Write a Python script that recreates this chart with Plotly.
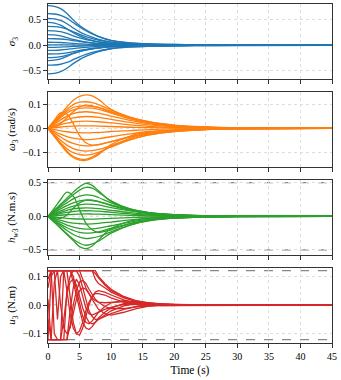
import plotly.graph_objects as go
from plotly.subplots import make_subplots

# sample times for the smooth states (s)
T = [0, 1, 2, 3, 4, 5, 6, 7, 8, 10, 13, 16, 20, 25, 30, 45]

# attitude MRP component sigma_3
SIGMA3 = [
    [0.78, 0.764, 0.718, 0.624, 0.499, 0.39, 0.304, 0.234, 0.172, 0.094, 0.047, 0.027, 0.016, 0.008, 0.004, 0],
    [0.62, 0.614, 0.589, 0.533, 0.446, 0.36, 0.285, 0.223, 0.174, 0.099, 0.05, 0.028, 0.016, 0.007, 0.004, 0],
    [0.53, 0.519, 0.488, 0.424, 0.339, 0.265, 0.207, 0.159, 0.117, 0.064, 0.032, 0.019, 0.011, 0.005, 0.003, 0],
    [0.45, 0.437, 0.396, 0.324, 0.248, 0.185, 0.135, 0.099, 0.072, 0.036, 0.018, 0.009, 0.005, 0.002, 0.001, 0],
    [0.37, 0.366, 0.352, 0.318, 0.266, 0.215, 0.17, 0.133, 0.104, 0.059, 0.03, 0.017, 0.009, 0.004, 0.002, 0],
    [0.29, 0.284, 0.267, 0.232, 0.186, 0.145, 0.113, 0.087, 0.064, 0.035, 0.017, 0.01, 0.006, 0.003, 0.001, 0],
    [0.21, 0.204, 0.185, 0.151, 0.116, 0.086, 0.063, 0.046, 0.034, 0.017, 0.008, 0.004, 0.002, 0.001, 0, 0],
    [0.13, 0.129, 0.124, 0.112, 0.094, 0.075, 0.06, 0.047, 0.036, 0.021, 0.01, 0.006, 0.003, 0.002, 0.001, 0],
    [0.06, 0.059, 0.055, 0.048, 0.038, 0.03, 0.023, 0.018, 0.013, 0.007, 0.004, 0.002, 0.001, 0.001, 0, 0],
    [0.01, 0.01, 0.009, 0.008, 0.006, 0.005, 0.004, 0.003, 0.002, 0.001, 0.001, 0, 0, 0, 0, 0],
    [-0.04, -0.039, -0.035, -0.029, -0.022, -0.016, -0.012, -0.009, -0.006, -0.003, -0.002, -0.001, 0, 0, 0, 0],
    [-0.10, -0.098, -0.092, -0.08, -0.064, -0.05, -0.039, -0.03, -0.022, -0.012, -0.006, -0.004, -0.002, -0.001, 0, 0],
    [-0.17, -0.168, -0.162, -0.146, -0.122, -0.099, -0.078, -0.061, -0.048, -0.027, -0.014, -0.008, -0.004, -0.002, -0.001, 0],
    [-0.24, -0.235, -0.221, -0.192, -0.154, -0.12, -0.094, -0.072, -0.053, -0.029, -0.014, -0.008, -0.005, -0.002, -0.001, 0],
    [-0.30, -0.291, -0.264, -0.216, -0.165, -0.123, -0.09, -0.066, -0.048, -0.024, -0.012, -0.006, -0.003, -0.002, -0.001, 0],
    [-0.39, -0.386, -0.371, -0.335, -0.281, -0.226, -0.179, -0.14, -0.109, -0.062, -0.031, -0.018, -0.01, -0.005, -0.002, 0],
    [-0.56, -0.549, -0.515, -0.448, -0.358, -0.28, -0.218, -0.168, -0.123, -0.067, -0.034, -0.02, -0.011, -0.006, -0.003, 0],
]

# body rate omega_3 (rad/s)
OMEGA3 = [
    [0, 0.03, 0.06, 0.09, 0.118, 0.135, 0.141, 0.137, 0.122, 0.08, 0.045, 0.025, 0.012, 0.005, 0.002, 0],
    [0, 0.028, 0.055, 0.08, 0.1, 0.11, 0.112, 0.108, 0.1, 0.078, 0.048, 0.028, 0.014, 0.006, 0.002, 0],
    [0, 0.025, 0.05, 0.072, 0.088, 0.094, 0.095, 0.093, 0.088, 0.072, 0.046, 0.027, 0.013, 0.005, 0.002, 0],
    [0, 0.022, 0.045, 0.065, 0.078, 0.084, 0.086, 0.085, 0.08, 0.064, 0.04, 0.023, 0.011, 0.004, 0.002, 0],
    [0, 0.005, 0.02, 0.045, 0.07, 0.09, 0.098, 0.095, 0.088, 0.068, 0.042, 0.024, 0.011, 0.004, 0.001, 0],
    [0, 0.018, 0.036, 0.052, 0.062, 0.068, 0.07, 0.068, 0.064, 0.052, 0.034, 0.02, 0.01, 0.004, 0.001, 0],
    [0, 0.012, 0.025, 0.036, 0.044, 0.048, 0.05, 0.049, 0.046, 0.038, 0.025, 0.015, 0.007, 0.003, 0.001, 0],
    [0, 0.008, 0.016, 0.022, 0.027, 0.03, 0.031, 0.03, 0.028, 0.023, 0.015, 0.009, 0.004, 0.002, 0.001, 0],
    [0, 0.003, 0.006, 0.008, 0.01, 0.011, 0.011, 0.011, 0.01, 0.008, 0.005, 0.003, 0.002, 0.001, 0, 0],
    [0, -0.005, -0.01, -0.014, -0.017, -0.018, -0.019, -0.018, -0.017, -0.013, -0.009, -0.005, -0.002, -0.001, 0, 0],
    [0, -0.012, -0.024, -0.034, -0.041, -0.045, -0.047, -0.046, -0.043, -0.035, -0.023, -0.013, -0.006, -0.002, -0.001, 0],
    [0, 0.035, 0.065, 0.06, 0.02, -0.03, -0.06, -0.07, -0.068, -0.055, -0.035, -0.02, -0.01, -0.004, -0.001, 0],
    [0, -0.018, -0.036, -0.052, -0.063, -0.07, -0.073, -0.072, -0.068, -0.055, -0.036, -0.021, -0.01, -0.004, -0.001, 0],
    [0, -0.025, -0.05, -0.07, -0.085, -0.092, -0.095, -0.093, -0.088, -0.072, -0.047, -0.027, -0.013, -0.005, -0.002, 0],
    [0, -0.03, -0.06, -0.085, -0.102, -0.11, -0.112, -0.108, -0.1, -0.078, -0.048, -0.027, -0.013, -0.005, -0.002, 0],
    [0, -0.032, -0.065, -0.095, -0.118, -0.128, -0.13, -0.12, -0.105, -0.075, -0.042, -0.023, -0.011, -0.004, -0.001, 0],
    [0, -0.034, -0.068, -0.1, -0.122, -0.133, -0.134, -0.125, -0.11, -0.068, -0.032, -0.016, -0.007, -0.003, -0.001, 0],
]

# wheel momentum h_w3 (N.m.s)
HW3 = [
    [0, 0.09, 0.18, 0.27, 0.36, 0.44, 0.49, 0.46, 0.38, 0.22, 0.1, 0.05, 0.02, 0.008, 0.003, 0],
    [0, 0.08, 0.16, 0.24, 0.32, 0.39, 0.43, 0.42, 0.36, 0.23, 0.11, 0.055, 0.024, 0.009, 0.003, 0],
    [0, 0.07, 0.14, 0.2, 0.26, 0.3, 0.32, 0.31, 0.28, 0.2, 0.11, 0.055, 0.024, 0.009, 0.003, 0],
    [0, 0.055, 0.11, 0.16, 0.2, 0.23, 0.24, 0.235, 0.22, 0.17, 0.1, 0.05, 0.022, 0.008, 0.003, 0],
    [0, 0.12, 0.25, 0.36, 0.3, 0.1, -0.1, -0.2, -0.24, -0.2, -0.11, -0.055, -0.024, -0.009, -0.003, 0],
    [0, 0.04, 0.08, 0.12, 0.15, 0.17, 0.18, 0.178, 0.17, 0.13, 0.08, 0.042, 0.018, 0.007, 0.002, 0],
    [0, 0.03, 0.06, 0.09, 0.11, 0.12, 0.125, 0.123, 0.115, 0.09, 0.055, 0.03, 0.013, 0.005, 0.002, 0],
    [0, 0.02, 0.04, 0.06, 0.072, 0.08, 0.083, 0.082, 0.077, 0.06, 0.037, 0.02, 0.009, 0.003, 0.001, 0],
    [0, 0.008, 0.016, 0.024, 0.03, 0.033, 0.035, 0.034, 0.032, 0.025, 0.015, 0.008, 0.004, 0.001, 0, 0],
    [0, -0.01, -0.02, -0.03, -0.036, -0.04, -0.042, -0.041, -0.038, -0.03, -0.018, -0.01, -0.004, -0.002, 0, 0],
    [0, -0.03, -0.06, -0.085, -0.1, -0.11, -0.115, -0.113, -0.106, -0.085, -0.052, -0.028, -0.012, -0.005, -0.002, 0],
    [0, -0.02, -0.03, 0.02, 0.12, 0.2, 0.24, 0.24, 0.22, 0.16, 0.09, 0.045, 0.02, 0.007, 0.002, 0],
    [0, -0.045, -0.09, -0.13, -0.16, -0.18, -0.19, -0.187, -0.177, -0.14, -0.085, -0.045, -0.02, -0.007, -0.002, 0],
    [0, -0.06, -0.12, -0.17, -0.21, -0.24, -0.25, -0.245, -0.23, -0.18, -0.11, -0.058, -0.025, -0.009, -0.003, 0],
    [0, -0.07, -0.14, -0.21, -0.27, -0.31, -0.33, -0.32, -0.3, -0.23, -0.13, -0.067, -0.028, -0.01, -0.003, 0],
    [0, -0.085, -0.17, -0.26, -0.34, -0.4, -0.43, -0.41, -0.37, -0.25, -0.13, -0.06, -0.025, -0.009, -0.003, 0],
    [0, -0.09, -0.18, -0.27, -0.36, -0.45, -0.48, -0.44, -0.35, -0.18, -0.07, -0.03, -0.012, -0.004, -0.001, 0],
]

# control torque samples (s)
T_U = [0, 0.5, 1, 1.5, 2, 2.5, 3, 3.5, 4, 4.5, 5, 5.5, 6, 6.5, 7, 7.5, 8, 9, 10, 12, 14, 16, 18, 20, 25, 30, 45]

# control torque u_3 (N.m)
U3 = [
    [0.12, 0.12, 0.12, 0.12, 0.12, 0.12, 0.12, 0.12, 0.12, 0.12, 0.12, 0.12, 0.12, 0.12, 0.12, 0.12, 0.1, 0.075, 0.055, 0.03, 0.015, 0.008, 0.004, 0.002, 0.001, 0, 0],
    [0.12, 0.12, 0.12, 0.12, 0.12, 0.12, 0.12, 0.12, 0.12, 0.12, 0.12, 0.12, 0.12, 0.12, 0.12, 0.11, 0.095, 0.07, 0.05, 0.028, 0.014, 0.007, 0.003, 0.001, 0, 0, 0],
    [-0.12, -0.12, -0.12, -0.12, -0.12, -0.12, 0.05, 0.1, 0.12, 0.12, 0.1, 0.06, 0.02, -0.02, -0.04, -0.05, -0.05, -0.04, -0.03, -0.015, -0.005, 0.002, 0.003, 0.002, 0.001, 0, 0],
    [-0.12, -0.12, -0.12, -0.12, -0.12, -0.12, -0.12, -0.02, 0.06, 0.09, 0.07, 0.03, -0.01, -0.03, -0.035, -0.03, -0.025, -0.015, -0.008, 0.002, 0.005, 0.004, 0.002, 0.001, 0, 0, 0],
    [0.12, 0.12, 0.12, -0.05, 0.1, 0.12, 0.12, 0.03, -0.06, -0.1, -0.105, -0.08, -0.04, 0.0, 0.03, 0.045, 0.05, 0.045, 0.035, 0.018, 0.006, 0.0, -0.002, -0.002, -0.001, 0, 0],
    [-0.12, 0.1, 0.12, 0.12, 0.12, 0.12, 0.12, 0.12, 0.08, 0.03, -0.02, -0.06, -0.08, -0.085, -0.075, -0.06, -0.045, -0.025, -0.01, 0.005, 0.008, 0.006, 0.003, 0.001, 0, 0, 0],
    [0.09, 0.12, -0.1, -0.12, -0.12, -0.05, 0.04, 0.08, 0.09, 0.07, 0.03, -0.01, -0.04, -0.06, -0.065, -0.06, -0.05, -0.035, -0.02, -0.003, 0.004, 0.004, 0.002, 0.001, 0, 0, 0],
    [0.06, 0.12, 0.12, 0.12, 0.12, 0.12, 0.05, -0.03, -0.08, -0.1, -0.09, -0.06, -0.02, 0.01, 0.03, 0.04, 0.04, 0.035, 0.025, 0.01, 0.002, -0.002, -0.002, -0.001, 0, 0, 0],
    [-0.05, -0.12, -0.12, -0.12, -0.12, -0.12, -0.12, -0.07, 0.0, 0.05, 0.08, 0.085, 0.075, 0.055, 0.035, 0.02, 0.01, -0.005, -0.012, -0.012, -0.006, -0.002, 0, 0.001, 0, 0, 0],
    [0.12, 0.12, 0.12, 0.12, 0.12, 0.12, 0.12, 0.12, 0.12, 0.12, 0.12, 0.09, 0.06, 0.04, 0.025, 0.015, 0.01, 0.008, 0.01, 0.012, 0.009, 0.005, 0.002, 0.001, 0, 0, 0],
    [0.02, -0.12, 0.08, 0.12, 0.0, -0.08, -0.1, -0.08, -0.03, 0.02, 0.05, 0.06, 0.055, 0.04, 0.02, 0.0, -0.015, -0.03, -0.035, -0.025, -0.012, -0.004, 0.0, 0.001, 0, 0, 0],
    [-0.12, -0.12, -0.12, -0.12, -0.12, 0.12, 0.12, 0.12, 0.1, 0.05, 0.0, -0.04, -0.06, -0.065, -0.055, -0.04, -0.025, -0.005, 0.008, 0.015, 0.01, 0.004, 0.001, 0, 0, 0, 0],
    [0.12, 0.12, 0.12, 0.12, 0.12, 0.12, 0.12, 0.12, 0.12, 0.12, 0.12, 0.12, 0.12, 0.12, 0.12, 0.09, 0.075, 0.06, 0.045, 0.025, 0.012, 0.006, 0.003, 0.001, 0, 0, 0],
]

HW_LIMIT = 0.5
U_LIMIT = 0.12

FONT = "Liberation Serif, Times New Roman, DejaVu Serif, serif"

panels = [
    (T, SIGMA3, "#1f77b4", "<i>σ</i><sub>3</sub>", [-0.66, 0.81], 0.5, None, "spline"),
    (T, OMEGA3, "#ff7f0e", "<i>ω</i><sub>3</sub> (rad/s)", [-0.162, 0.153], 0.1, None, "spline"),
    (T, HW3, "#2ca02c", "<i>h</i><sub><i>w</i>3</sub> (N.m.s)", [-0.575, 0.54], 0.5, HW_LIMIT, "spline"),
    (T_U, U3, "#d62728", "<i>u</i><sub>3</sub> (N.m)", [-0.132, 0.129], 0.1, U_LIMIT, "linear"),
]

fig = make_subplots(rows=4, cols=1, shared_xaxes=True, vertical_spacing=13 / 339)

for row, (t, series, color, title, yrange, dtick, limit, shape) in enumerate(panels, start=1):
    for y in series:
        fig.add_trace(
            go.Scatter(x=t, y=y, mode="lines", line=dict(color=color, width=1.3, shape=shape),
                       showlegend=False, hoverinfo="skip"),
            row=row, col=1,
        )
    xref = "x" if row == 1 else f"x{row}"
    yref = "y" if row == 1 else f"y{row}"
    fig.add_shape(type="line", xref=xref, yref=yref, x0=0, x1=45, y0=0, y1=0,
                  line=dict(color="#999", width=1, dash="dot"), layer="below")
    if limit is not None:
        for lv in (limit, -limit):
            fig.add_shape(type="line", xref=xref, yref=yref, x0=0, x1=45, y0=lv, y1=lv,
                          line=dict(color="#888", width=1.3, dash="dash"), layer="below")
    fig.update_yaxes(
        title=dict(text=title, standoff=4, font=dict(size=11)),
        range=yrange, dtick=dtick, tickformat=".1f",
        row=row, col=1,
    )

fig.update_xaxes(range=[0, 45], dtick=5)
fig.update_xaxes(title=dict(text="Time (s)", standoff=4, font=dict(size=11.5)), row=4, col=1)

axis_style = dict(
    showline=True, mirror=True, linecolor="#333", linewidth=1.2,
    ticks="outside", ticklen=4, tickwidth=1, tickcolor="#333",
    showgrid=True, gridcolor="#ddd", griddash="dot", gridwidth=1,
    zeroline=False, tickfont=dict(size=10), automargin=False,
)
fig.update_xaxes(**axis_style)
fig.update_yaxes(**axis_style)

fig.update_layout(
    width=341, height=380,
    margin=dict(l=48, r=9, t=4, b=37),
    paper_bgcolor="white", plot_bgcolor="white",
    font=dict(family=FONT, color="black", size=10),
    showlegend=False,
)

# drop the default page margin so the figure sits at the window's corner
fig.write_html("out.html", config={"displayModeBar": False},
               post_script="document.body.style.margin = '0';")
